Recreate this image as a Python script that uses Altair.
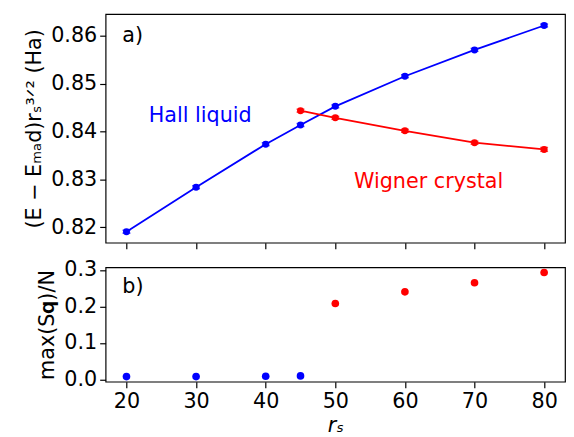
import altair as alt
import pandas as pd

# ---- data ----
rs_hall = [20, 30, 40, 45, 50, 60, 70, 80]
e_hall = [0.8191, 0.8284, 0.8374, 0.8414, 0.8453, 0.8516, 0.8571, 0.8622]
err_hall = [0.0003, 0.0003, 0.0003, 0.0003, 0.0003, 0.0003, 0.0003, 0.0003]

rs_wig = [45, 50, 60, 70, 80]
e_wig = [0.8444, 0.8429, 0.8402, 0.8377, 0.8363]
err_wig = [0.0003, 0.0003, 0.0003, 0.0003, 0.0004]

rs_hall_b = [20, 30, 40, 45]
s_hall = [0.008, 0.008, 0.009, 0.010]
rs_wig_b = [50, 60, 70, 80]
s_wig = [0.208, 0.240, 0.265, 0.293]

BLUE = "#0000ff"
RED = "#ff0000"
FONT = "DejaVu Sans"
FS = 21

xdom = [17, 83]
ydom_a = [0.8168, 0.8646]
ydom_b = [-0.006, 0.307]

top_df = pd.concat([
    pd.DataFrame({"rs": rs_hall, "E": e_hall, "err": err_hall, "phase": "Hall"}),
    pd.DataFrame({"rs": rs_wig, "E": e_wig, "err": err_wig, "phase": "Wigner"}),
])
top_df["lo"] = top_df["E"] - top_df["err"]
top_df["hi"] = top_df["E"] + top_df["err"]

bot_df = pd.concat([
    pd.DataFrame({"rs": rs_hall_b, "S": s_hall, "phase": "Hall"}),
    pd.DataFrame({"rs": rs_wig_b, "S": s_wig, "phase": "Wigner"}),
])

color = alt.Color("phase:N", scale=alt.Scale(domain=["Hall", "Wigner"], range=[BLUE, RED]), legend=None)

xa = alt.X("rs:Q", scale=alt.Scale(domain=xdom, nice=False, zero=False),
           axis=alt.Axis(values=[20, 30, 40, 50, 60, 70, 80], tickCount=10, labels=False, title=None))
ya = alt.Y("E:Q", scale=alt.Scale(domain=ydom_a, nice=False, zero=False),
           axis=alt.Axis(values=[0.82, 0.83, 0.84, 0.85, 0.86], tickCount=10, format=".2f",
                         title="(E − Eₘₐd)rₛ³ᐟ² (Ha)"))

base_top = alt.Chart(top_df)
lines = base_top.mark_line(strokeWidth=1.8).encode(x=xa, y=ya, color=color, detail="phase:N")
pts = base_top.mark_circle(size=50, opacity=1).encode(x=xa, y=ya, color=color)
ebar = base_top.mark_rule(strokeWidth=1.5).encode(
    x="rs:Q", y=alt.Y("lo:Q"), y2="hi:Q", color=color)
caps_lo = base_top.mark_tick(thickness=1.5, size=8, orient="horizontal").encode(
    x="rs:Q", y="lo:Q", color=color)
caps_hi = base_top.mark_tick(thickness=1.5, size=8, orient="horizontal").encode(
    x="rs:Q", y="hi:Q", color=color)

ann_top = pd.DataFrame({
    "rs": [19.4, 30.6, 63.4],
    "E": [0.8600, 0.8433, 0.8294],
    "label": ["a)", "Hall liquid", "Wigner crystal"],
    "c": ["#000000", BLUE, RED],
})
txt_a = alt.Chart(ann_top.iloc[[0]]).mark_text(font=FONT, fontSize=FS, align="left", baseline="middle").encode(
    x="rs:Q", y="E:Q", text="label:N", color=alt.Color("c:N", scale=None))
txt_phases = alt.Chart(ann_top.iloc[1:]).mark_text(font=FONT, fontSize=FS, align="center", baseline="middle").encode(
    x="rs:Q", y="E:Q", text="label:N", color=alt.Color("c:N", scale=None))

top = alt.layer(lines, ebar, caps_lo, caps_hi, pts, txt_a, txt_phases).properties(width=466, height=232)

xb = alt.X("rs:Q", scale=alt.Scale(domain=xdom, nice=False, zero=False),
           axis=alt.Axis(values=[20, 30, 40, 50, 60, 70, 80], tickCount=10, title="rₛ",
                         titleFontStyle="italic", titlePadding=3))
yb = alt.Y("S:Q", scale=alt.Scale(domain=ydom_b, nice=False, zero=False),
           axis=alt.Axis(values=[0.0, 0.1, 0.2, 0.3], tickCount=10, format=".1f", title="max(S𝐪)/N"))
pts_b = alt.Chart(bot_df).mark_circle(size=60, opacity=1).encode(x=xb, y=yb, color=color)
ann_b = pd.DataFrame({"rs": [19.4], "S": [0.253], "label": ["b)"]})
txt_b = alt.Chart(ann_b).mark_text(font=FONT, fontSize=FS, align="left", baseline="middle", color="black").encode(
    x="rs:Q", y="S:Q", text="label:N")
bottom = alt.layer(pts_b, txt_b).properties(width=466, height=116)

chart = alt.vconcat(top, bottom, spacing=7).properties(
    background="white", padding={"left": 15, "top": 2, "right": 0, "bottom": 0}
).configure_view(
    stroke="black", strokeWidth=1.2
).configure_axis(
    labelFont=FONT, titleFont=FONT, labelFontSize=FS, titleFontSize=FS,
    labelColor="black", titleColor="black", titleFontWeight="normal",
    domain=False, ticks=True, tickColor="black", tickSize=6, tickWidth=1.2,
    grid=False, labelPadding=3, titlePadding=6, labelOverlap=False,
)

chart.save("out.html", embed_options={"renderer": "svg", "actions": False})
